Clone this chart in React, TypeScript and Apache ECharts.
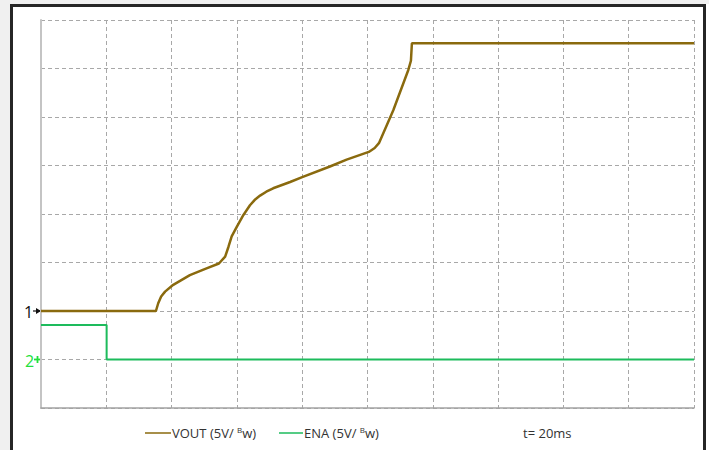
import React, { useEffect, useRef } from "react";
import * as echarts from "echarts";

// VOUT trace (channel 1), time in ms, value in volts
const voutTimeMs = [0, 35.2, 35.9, 36.8, 38.0, 40.5, 45.6, 50.7, 54.5, 56.4, 57.4, 58.4, 60.0, 62.0, 64.0, 65.6, 67.1, 69.0, 71.1, 76.3, 80.0, 88.5, 93.6, 100.4, 102.2, 103.5, 107.9, 112.5, 113.3, 113.6, 200];
const voutV = [0, 0, 0.8, 1.5, 2.0, 2.7, 3.7, 4.4, 4.9, 5.6, 6.6, 7.7, 8.7, 9.9, 10.9, 11.5, 11.9, 12.3, 12.65, 13.3, 13.8, 14.9, 15.6, 16.4, 16.8, 17.3, 20.7, 24.85, 25.8, 27.6, 27.6];

// ENA trace (channel 2), time in ms, value in volts
const enaTimeMs = [0, 20.1, 20.1, 200];
const enaV = [3.55, 3.55, 0, 0];

// Channel ground offsets in volts on the shared 5 V/div screen axis
const ch1Offset = 0;
const ch2Offset = -5;

// Screen scale: 10 divisions of 20 ms, 8 divisions of 5 V
const timeMin = 0;
const timeMax = 200;
const timeDiv = 20;
const voltMin = -10;
const voltMax = 30;
const voltDiv = 5;

const legendLabels = ["VOUT (5V/ {s|B}w)", "ENA (5V/ {s|B}w)"];
const timebaseLabel = "t= 20ms";
const channelMarkers = ["1", "2", "+"];

const VOUT_COLOR = "#8a6a0e";
const ENA_COLOR = "#1dbb5c";
const MARK2_COLOR = "#22e03a";
const FONT = "'Open Sans', 'Noto Sans', sans-serif";

export default function App() {
  const ref = useRef<HTMLDivElement>(null);

  useEffect(() => {
    if (!ref.current) return;
    const chart = echarts.init(ref.current, undefined, { renderer: "svg" });
    const legendText = (x: number, text: string) => ({
      type: "text",
      x,
      y: 433,
      style: {
        text,
        fontFamily: FONT,
        fontSize: 13,
        fill: "#333",
        verticalAlign: "middle",
        rich: {
          s: { fontSize: 8, fontFamily: FONT, fill: "#333", padding: [0, 0, 7, 0] },
        },
      },
    });
    chart.setOption({
      animation: false,
      grid: { left: 41, top: 20, width: 653, height: 388 },
      xAxis: {
        type: "value",
        min: timeMin,
        max: timeMax,
        interval: timeDiv,
        axisLine: { show: true, onZero: false, lineStyle: { color: "#a3a3a3", width: 1.5 } },
        axisTick: { show: false },
        axisLabel: { show: false },
        splitLine: { show: true, lineStyle: { color: "#a8a8a8", type: [4, 3], width: 1 } },
      },
      yAxis: {
        type: "value",
        min: voltMin,
        max: voltMax,
        interval: voltDiv,
        axisLine: { show: true, onZero: false, lineStyle: { color: "#c4c4c4", width: 2 } },
        axisTick: { show: false },
        axisLabel: { show: false },
        splitLine: { show: true, lineStyle: { color: "#a8a8a8", type: [4, 3], width: 1 } },
      },
      series: [
        {
          type: "line",
          name: "ENA",
          data: enaTimeMs.map((t, i) => [t, enaV[i] + ch2Offset]),
          showSymbol: false,
          lineStyle: { color: ENA_COLOR, width: 2 },
          z: 3,
        },
        {
          type: "line",
          name: "VOUT",
          data: voutTimeMs.map((t, i) => [t, voutV[i] + ch1Offset]),
          showSymbol: false,
          lineStyle: { color: VOUT_COLOR, width: 2.5 },
          z: 4,
        },
      ],
      graphic: [
        // channel markers
        {
          type: "text",
          x: 24,
          y: 312,
          style: { text: channelMarkers[0], fontSize: 16, fontFamily: FONT, fill: "#111", verticalAlign: "middle" },
        },
        {
          type: "line",
          shape: { x1: 33, y1: 311, x2: 40, y2: 311 },
          style: { stroke: "#111", lineWidth: 1.2 },
        },
        {
          type: "polygon",
          shape: { points: [[41, 311], [36, 308], [36, 314]] },
          style: { fill: "#111" },
        },
        {
          type: "text",
          x: 25,
          y: 360.5,
          style: { text: channelMarkers[1], fontSize: 16, fontFamily: FONT, fill: MARK2_COLOR, verticalAlign: "middle" },
        },
        {
          type: "line",
          shape: { x1: 34, y1: 359.5, x2: 41, y2: 359.5 },
          style: { stroke: MARK2_COLOR, lineWidth: 1.8 },
        },
        {
          type: "line",
          shape: { x1: 37.5, y1: 356, x2: 37.5, y2: 363 },
          style: { stroke: MARK2_COLOR, lineWidth: 1.8 },
        },
        // legend
        {
          type: "line",
          shape: { x1: 145, y1: 433, x2: 171, y2: 433 },
          style: { stroke: VOUT_COLOR, lineWidth: 1.5 },
        },
        legendText(172, legendLabels[0]),
        {
          type: "line",
          shape: { x1: 279, y1: 433, x2: 303, y2: 433 },
          style: { stroke: ENA_COLOR, lineWidth: 1.5 },
        },
        legendText(304, legendLabels[1]),
        {
          type: "text",
          x: 523,
          y: 433,
          style: { text: timebaseLabel, fontSize: 13, fontFamily: FONT, fill: "#333", verticalAlign: "middle" },
        },
      ],
    });
    return () => chart.dispose();
  }, []);

  return (
    <div style={{ position: "fixed", left: 0, top: 0, width: 709, height: 450, background: "#ffffff", overflow: "hidden" }}>
      <div style={{ position: "absolute", left: 0, top: 0, width: 10, height: 450, background: "#f0f0f0" }} />
      <div style={{ position: "absolute", left: 0, top: 0, width: 709, height: 4, background: "#f0f0f0" }} />
      <div
        style={{
          position: "absolute",
          left: 10,
          top: 4,
          width: 696,
          height: 470,
          boxSizing: "border-box",
          border: "3px solid #262626",
          background: "#ffffff",
        }}
      />
      <div ref={ref} style={{ position: "absolute", left: 0, top: 0, width: 709, height: 450 }} />
    </div>
  );
}
